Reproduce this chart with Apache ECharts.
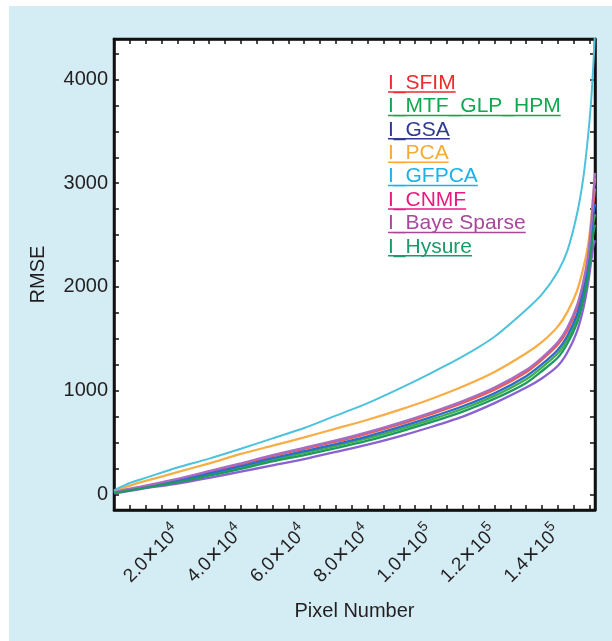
<!DOCTYPE html>
<html>
<head>
<meta charset="utf-8">
<title>RMSE vs Pixel Number</title>
<script src="https://cdn.jsdelivr.net/npm/echarts@6.0.0/dist/echarts.min.js"></script>
<style>
html, body { margin: 0; padding: 0; background: #fff; }
#main { position: absolute; left: 9px; top: 6px; width: 603px; height: 635px; }
</style>
</head>
<body>
<div id="main"></div>
<script>
// x positions shared by every curve (sorted pixel index)
var pixelNumber = [0, 5000, 10000, 20000, 30000, 40000, 50000, 60000, 70000, 80000, 90000, 100000,
  110000, 120000, 130000, 135000, 140000, 143000, 146000, 148000, 149500, 150500, 151200, 151700];

var sfim       = [18, 52, 80, 143, 217, 290, 370, 440, 508, 587, 675, 775, 883, 1010, 1178, 1300, 1445, 1580, 1790, 2020, 2260, 2550, 2800, 2950];
var mtfGlpHpm  = [14, 44, 71, 126, 193, 261, 335, 400, 468, 542, 628, 722, 826, 950, 1110, 1225, 1360, 1495, 1690, 1920, 2150, 2420, 2620, 2700];
var gsa        = [16, 47, 75, 132, 203, 273, 350, 418, 485, 560, 648, 745, 850, 975, 1140, 1255, 1395, 1530, 1730, 1960, 2200, 2470, 2700, 2800];
var pca        = [30, 85, 130, 215, 300, 390, 470, 550, 635, 720, 815, 920, 1040, 1180, 1360, 1470, 1620, 1760, 1960, 2180, 2400, 2650, 2900, 3050];
var gfpca      = [40, 110, 160, 260, 345, 440, 540, 640, 760, 880, 1020, 1170, 1330, 1520, 1780, 1930, 2150, 2350, 2700, 3050, 3450, 3800, 4150, 4450];
var cnmf       = [20, 55, 85, 150, 225, 300, 380, 450, 520, 600, 690, 790, 900, 1030, 1200, 1320, 1470, 1610, 1820, 2050, 2300, 2600, 2900, 3100];
var bayeSparse = [10, 35, 60, 105, 160, 220, 280, 340, 410, 480, 560, 650, 750, 880, 1030, 1120, 1240, 1370, 1570, 1790, 2030, 2250, 2400, 2450];
var hysure     = [12, 40, 66, 118, 181, 246, 318, 380, 446, 518, 604, 697, 799, 922, 1075, 1190, 1320, 1455, 1650, 1870, 2100, 2360, 2520, 2600];

var seriesNames = ['I_SFIM', 'I_MTF_GLP_HPM', 'I_GSA', 'I_PCA', 'I_GFPCA', 'I_CNMF', 'I_Baye Sparse', 'I_Hysure'];
var seriesValues = [sfim, mtfGlpHpm, gsa, pca, gfpca, cnmf, bayeSparse, hysure];

// axis labels
var xLabelValues = [20000, 40000, 60000, 80000, 100000, 120000, 140000];
var yLabelValues = [0, 1000, 2000, 3000, 4000];

// styles
var lineColors   = ['#ee5a4c', '#3db04b', '#2f6bc9', '#f8ae48', '#4cc2dc', '#a96cc4', '#8a62cf', '#1e9a5e'];
var legendColors = ['#ec2a2f', '#10a84f', '#2e3a90', '#f6ab38', '#19b3e6', '#e8197f', '#a9479d', '#1b9a6b'];

var xTickValues = [];
for (var t = 5000; t <= 150000; t += 5000) xTickValues.push(t);
var yTickValues = [];
for (var u = 0; u <= 4250; u += 250) yTickValues.push(u);

var FONT = '"Liberation Sans", Arial, sans-serif';
var INK = '#231f20';

var myChart = echarts.init(document.getElementById('main'));

// legend drawn as underlined coloured text
var measure = document.createElement('canvas').getContext('2d');
measure.font = '21px ' + FONT;
var legendGraphic = [];
seriesNames.forEach(function (name, i) {
  var cy = 77 + i * 23.4;
  var w = measure.measureText(name).width;
  legendGraphic.push({
    type: 'text', x: 379, y: cy, z: 100,
    style: { text: name, fill: legendColors[i], font: '21px ' + FONT, verticalAlign: 'middle' }
  });
  legendGraphic.push({
    type: 'line', z: 100,
    shape: { x1: 379, y1: cy + 9, x2: 379 + w, y2: cy + 9 },
    style: { stroke: legendColors[i], lineWidth: 1.5 }
  });
});

var tickStyle = { show: true, inside: true, length: 5, lineStyle: { color: '#111', width: 1.5 } };
var frameLine = { show: true, onZero: false, lineStyle: { color: '#111', width: 2.5 } };

myChart.setOption({
  backgroundColor: '#d4ecf3',
  animation: false,
  graphic: legendGraphic,
  grid: {
    left: 105, top: 33, right: 17, bottom: 131,
    show: true, backgroundColor: '#fff', borderColor: '#111', borderWidth: 2.5
  },
  xAxis: [{
    type: 'value', min: 0, max: 151700,
    name: 'Pixel Number', nameLocation: 'middle', nameGap: 91,
    nameTextStyle: { fontFamily: FONT, fontSize: 20, color: INK },
    axisLine: frameLine,
    axisTick: Object.assign({ customValues: xTickValues }, tickStyle),
    splitLine: { show: false },
    axisLabel: {
      customValues: xLabelValues, rotate: 45, margin: 19,
      fontFamily: FONT, color: INK,
      formatter: function (v) {
        var e = Math.floor(Math.log10(v));
        var m = (v / Math.pow(10, e)).toFixed(1);
        return '{m|' + m + '}{x|×}{m|10}{e|' + e + '}';
      },
      rich: {
        m: { fontFamily: FONT, fontSize: 19, color: INK },
        x: { fontFamily: FONT, fontSize: 24, color: INK, padding: [0, 1, 0, 1] },
        e: { fontFamily: FONT, fontSize: 14, color: INK, padding: [0, 0, 14, 0] }
      }
    }
  }, {
    type: 'value', min: 0, max: 151700, position: 'top',
    axisLine: frameLine,
    axisTick: Object.assign({ customValues: xTickValues }, tickStyle),
    axisLabel: { show: false }, splitLine: { show: false }
  }],
  yAxis: [{
    type: 'value', min: -150, max: 4390,
    name: 'RMSE', nameLocation: 'middle', nameGap: 66,
    nameTextStyle: { fontFamily: FONT, fontSize: 20, color: INK },
    axisLine: frameLine,
    axisTick: Object.assign({ customValues: yTickValues }, tickStyle),
    splitLine: { show: false },
    axisLabel: {
      customValues: yLabelValues, margin: 6,
      fontFamily: FONT, fontSize: 20, color: INK,
      formatter: function (v) { return String(v); }
    }
  }, {
    type: 'value', min: -150, max: 4390, position: 'right',
    axisLine: frameLine,
    axisTick: Object.assign({ customValues: yTickValues }, tickStyle),
    axisLabel: { show: false }, splitLine: { show: false }
  }],
  series: seriesNames.map(function (name, i) {
    return {
      name: name,
      type: 'line',
      xAxisIndex: 0,
      yAxisIndex: 0,
      showSymbol: false,
      smooth: 0.25,
      clip: true,
      lineStyle: { color: lineColors[i], width: name === 'I_GFPCA' ? 2 : 2.3 },
      itemStyle: { color: lineColors[i] },
      data: pixelNumber.map(function (x, k) { return [x, seriesValues[i][k]]; })
    };
  })
});
</script>
</body>
</html>
